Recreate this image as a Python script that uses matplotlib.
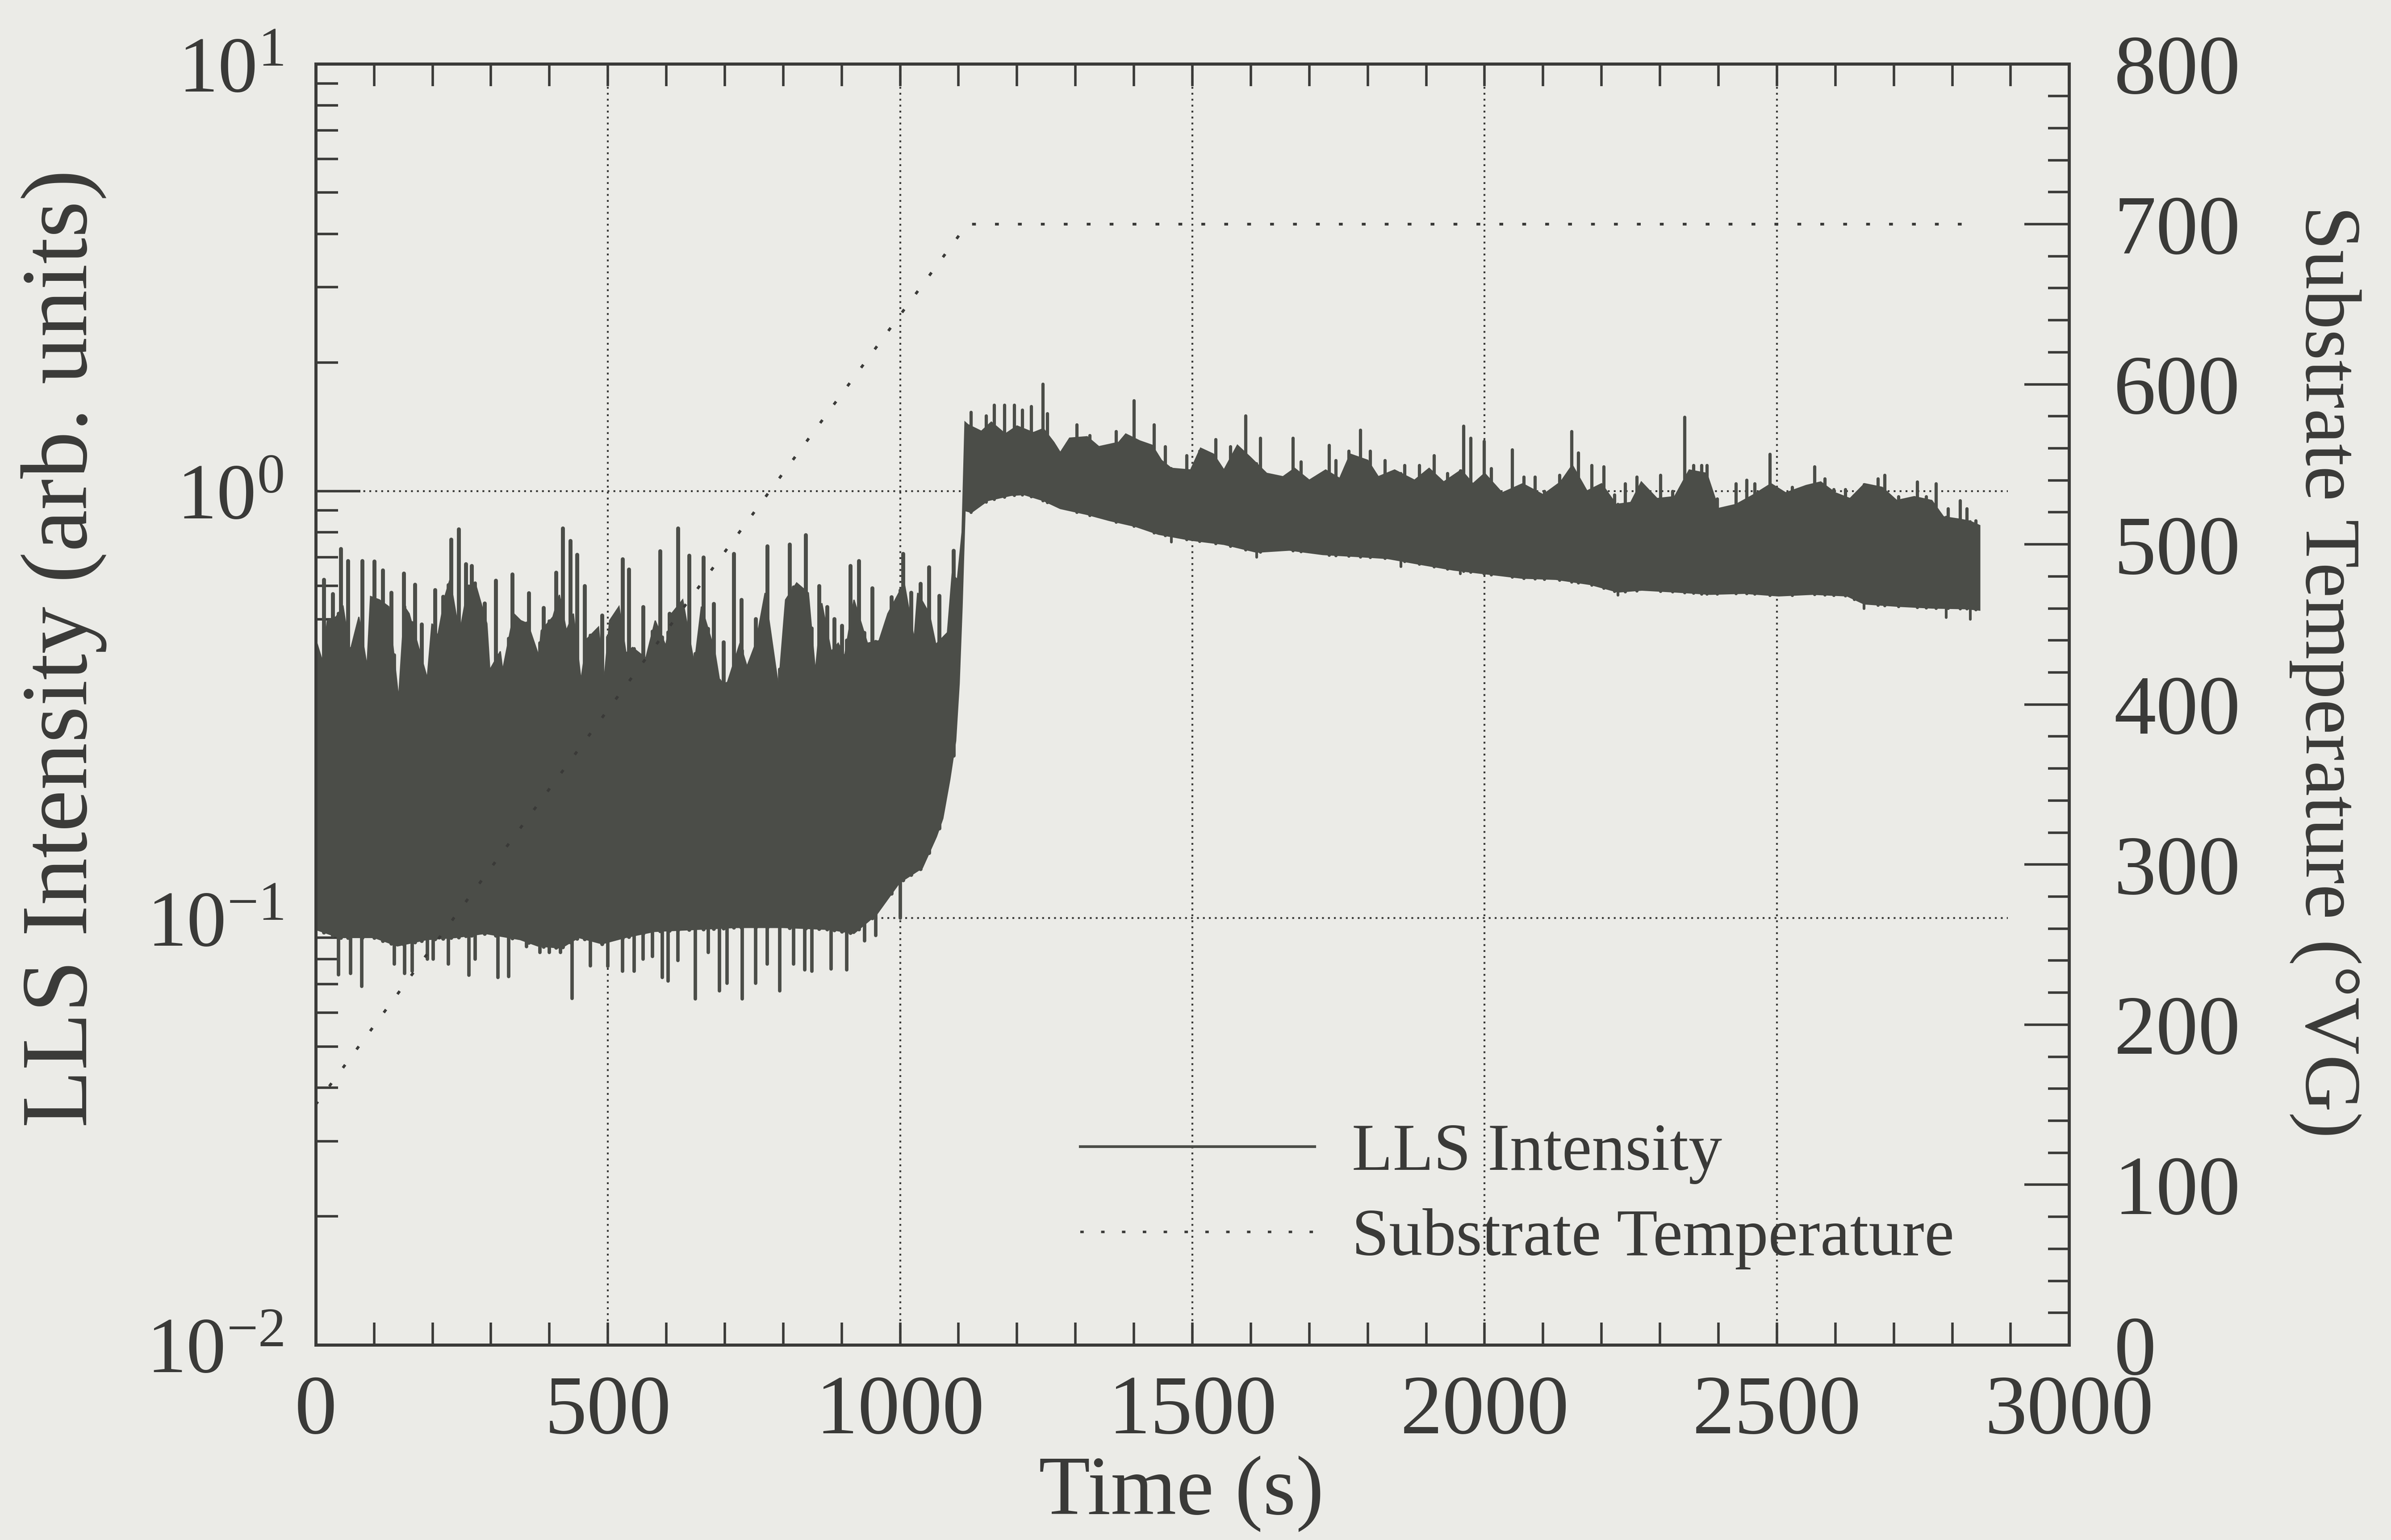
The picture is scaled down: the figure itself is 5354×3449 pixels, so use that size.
import numpy as np
import matplotlib.pyplot as plt
from matplotlib.lines import Line2D
from matplotlib.ticker import MultipleLocator, LogLocator, NullFormatter, LogFormatterMathtext

plt.rcParams['font.family'] = ['Liberation Serif', 'DejaVu Serif']
plt.rcParams['mathtext.fontset'] = 'stix'

PAPER = '#ebebe7'
INK = '#3a3a38'
TRACE = '#4b4d48'

# LLS intensity band: upper and lower edge of the dense trace
hi_t = [0, 12, 20, 35, 47, 59, 74, 88, 94, 109,
        125, 142, 152, 160, 191, 199, 209, 222, 230, 246,
        261, 273, 293, 298, 316, 320, 339, 351, 363, 382,
        386, 406, 417, 429, 441, 454, 464, 484, 493, 503,
        519, 531, 542, 565, 581, 599, 609, 628, 648, 660,
        683, 691, 704, 726, 738, 753, 769, 792, 804, 823,
        843, 855, 866, 882, 894, 905, 921, 944, 964, 979,
        1007, 1024, 1030, 1050, 1061, 1081, 1089, 1098, 1106,
        1111, 1116, 1139, 1156, 1180, 1200, 1228, 1245, 1263, 1274,
        1290, 1320, 1340, 1374, 1386, 1410, 1431, 1447, 1464, 1497,
        1514, 1536, 1554, 1577, 1599, 1627, 1655, 1675, 1700, 1728,
        1752, 1770, 1800, 1818, 1846, 1880, 1905, 1930, 1960, 1980,
        2000, 2030, 2065, 2100, 2130, 2150, 2175, 2200, 2225, 2250,
        2268, 2295, 2325, 2350, 2380, 2400, 2430, 2460, 2490, 2515,
        2550, 2575, 2600, 2625, 2650, 2680, 2705, 2735, 2765, 2785,
        2810, 2830, 2847]
hi_v = [0.45, 0.398, 0.497, 0.507, 0.536, 0.421, 0.507, 0.388, 0.566, 0.556,
        0.536, 0.326, 0.536, 0.516, 0.364, 0.489, 0.458, 0.571, 0.621, 0.462,
        0.598, 0.609, 0.489, 0.381, 0.421, 0.38, 0.516, 0.497, 0.489, 0.41,
        0.471, 0.507, 0.571, 0.471, 0.516, 0.36, 0.45, 0.48, 0.354, 0.497,
        0.536, 0.417, 0.43, 0.406, 0.497, 0.434, 0.516, 0.556, 0.392, 0.536,
        0.421, 0.36, 0.354, 0.44, 0.388, 0.44, 0.577, 0.347, 0.556, 0.609,
        0.577, 0.377, 0.546, 0.421, 0.44, 0.41, 0.556, 0.44, 0.446, 0.516,
        0.609, 0.45, 0.577, 0.516, 0.437, 0.466, 0.638, 0.62, 0.80,
        1.45, 1.43, 1.38, 1.45, 1.36, 1.42, 1.37, 1.40, 1.30, 1.23,
        1.33, 1.34, 1.27, 1.30, 1.36, 1.31, 1.28, 1.18, 1.13, 1.12,
        1.26, 1.22, 1.12, 1.28, 1.20, 1.10, 1.08, 1.13, 1.06, 1.12,
        1.07, 1.22, 1.18, 1.08, 1.12, 1.06, 1.13, 1.05, 1.12, 1.04,
        1.10, 0.99, 1.04, 0.98, 1.05, 1.15, 1.00, 1.04, 0.93, 0.94,
        1.05, 0.96, 0.97, 1.12, 1.10, 0.91, 0.93, 0.98, 1.04, 0.99,
        1.03, 1.05, 0.99, 0.96, 1.04, 1.02, 0.95, 0.97, 0.95, 0.87,
        0.86, 0.85, 0.83]

lo_t = [0, 40, 100, 140, 190, 240, 290, 350, 380, 420,
        450, 490, 530, 580, 650, 720, 800, 880, 921, 960,
        999, 1038, 1062, 1073, 1085, 1095, 1101, 1106, 1111, 1122,
        1150, 1190, 1212, 1245, 1274, 1319, 1358, 1403, 1442, 1498,
        1554, 1610, 1666, 1723, 1778, 1834, 1891, 1947, 2005, 2064,
        2122, 2181, 2228, 2269, 2327, 2386, 2444, 2503, 2561, 2620,
        2649, 2708, 2766, 2825, 2847]
lo_v = [0.094, 0.090, 0.090, 0.086, 0.089, 0.090, 0.092, 0.089, 0.086, 0.085,
        0.090, 0.087, 0.090, 0.093, 0.094, 0.095, 0.095, 0.094, 0.092, 0.102,
        0.121, 0.131, 0.155, 0.171, 0.211, 0.260, 0.354, 0.537, 0.90, 0.891,
        0.95, 0.977, 0.981, 0.95, 0.91, 0.882, 0.853, 0.826, 0.792, 0.767,
        0.750, 0.719, 0.727, 0.710, 0.703, 0.695, 0.673, 0.653, 0.639, 0.625,
        0.621, 0.604, 0.580, 0.586, 0.580, 0.573, 0.576, 0.568, 0.573, 0.568,
        0.544, 0.537, 0.532, 0.530, 0.526]

# spike tips above the band (before / after the jump) and below it
peak1_t = [14, 29, 43, 55, 80, 100, 115, 129, 151, 170,
           181, 204, 218, 232, 245, 257, 267, 289, 308, 336,
           365, 390, 411, 423, 436, 447, 460, 490, 525, 536,
           560, 589, 605, 620, 639, 663, 681, 698, 715, 728,
           753, 773, 811, 838, 861, 875, 887, 900, 915, 929,
           952, 985, 1005, 1019, 1035, 1049, 1067, 1091]
peak1_v = [0.62, 0.574, 0.733, 0.687, 0.687, 0.684, 0.653, 0.579, 0.642, 0.604,
           0.487, 0.587, 0.566, 0.771, 0.815, 0.675, 0.669, 0.546, 0.618, 0.638,
           0.577, 0.533, 0.644, 0.819, 0.764, 0.710, 0.599, 0.512, 0.693, 0.656,
           0.536, 0.723, 0.517, 0.819, 0.707, 0.700, 0.544, 0.443, 0.714, 0.556,
           0.502, 0.743, 0.751, 0.790, 0.599, 0.536, 0.502, 0.484, 0.669, 0.687,
           0.593, 0.564, 0.714, 0.579, 0.607, 0.663, 0.569, 0.726]

peak2_t = [1121, 1147, 1161, 1178, 1195, 1209, 1224, 1244, 1252, 1302,
           1324, 1369, 1400, 1434, 1453, 1490, 1512, 1540, 1565, 1591,
           1616, 1672, 1686, 1734, 1745, 1767, 1787, 1804, 1829, 1863,
           1888, 1913, 1936, 1964, 1976, 1999, 2011, 2047, 2067, 2086,
           2102, 2128, 2149, 2160, 2183, 2204, 2222, 2240, 2260, 2301,
           2321, 2342, 2357, 2371, 2380, 2398, 2430, 2448, 2462, 2488,
           2526, 2564, 2582, 2597, 2617, 2632, 2673, 2684, 2708, 2740,
           2755, 2772, 2793, 2813, 2825, 2840]
peak2_v = [1.53, 1.50, 1.59, 1.59, 1.59, 1.55, 1.58, 1.78, 1.52, 1.43,
           1.35, 1.38, 1.63, 1.43, 1.27, 1.21, 1.24, 1.32, 1.27, 1.50,
           1.33, 1.33, 1.17, 1.28, 1.18, 1.24, 1.39, 1.24, 1.18, 1.15,
           1.15, 1.21, 1.10, 1.42, 1.33, 1.31, 1.13, 1.25, 1.08, 1.08,
           1.00, 1.09, 1.38, 1.23, 1.15, 1.14, 0.98, 1.04, 1.08, 1.09,
           1.00, 1.49, 1.15, 1.15, 1.15, 0.96, 1.04, 1.06, 1.04, 1.22,
           1.02, 1.14, 1.07, 1.01, 1.01, 0.97, 1.07, 1.09, 0.97, 1.05,
           0.97, 1.04, 0.91, 0.95, 0.91, 0.853]

dip1_t = [39, 60, 79, 135, 152, 165, 191, 201, 227, 262,
          273, 312, 330, 361, 384, 400, 419, 439, 470, 500,
          525, 545, 560, 576, 593, 603, 620, 650, 672, 691,
          704, 730, 753, 773, 794, 818, 837, 849, 882, 909,
          939, 958, 1000]
dip1_v = [0.0736, 0.0741, 0.0692, 0.078, 0.0741, 0.075, 0.080, 0.080, 0.078, 0.0735,
          0.080, 0.0726, 0.073, 0.0857, 0.083, 0.083, 0.083, 0.0648, 0.0773, 0.077,
          0.075, 0.075, 0.080, 0.0813, 0.0726, 0.0711, 0.0796, 0.0647, 0.083, 0.0675,
          0.0703, 0.0647, 0.0703, 0.078, 0.0675, 0.078, 0.0756, 0.075, 0.076, 0.0756,
          0.0885, 0.091, 0.100]

dip2_t = [1464, 1610, 1857, 1958, 2228, 2649, 2790, 2831]
dip2_v = [0.76, 0.70, 0.665, 0.64, 0.57, 0.53, 0.505, 0.50]

# substrate temperature (right axis)
temp_t = [0, 1115, 2835]
temp_v = [150, 700, 700]

grid_t = [500, 1000, 1500, 2000, 2500]
grid_i = [0.1, 1.0]

fig = plt.figure(figsize=(26.77, 17.245), dpi=200, facecolor=PAPER)
ax = fig.add_axes([0.132, 0.1267, 0.7334, 0.8317])
ax.set_facecolor(PAPER)
ax.set_yscale('log')
ax.set_xlim(0, 3000)
ax.set_ylim(1e-2, 10)

for t in grid_t:
    ax.axvline(t, color=INK, lw=1.5, linestyle=(0, (1, 2.2)), zorder=1)
for v in grid_i:
    ax.axhline(v, xmax=0.965, color=INK, lw=1.5, linestyle=(0, (1, 2.2)), zorder=1)

# dense LLS trace: envelope polygon plus the spikes sticking out of it
ax.fill(np.concatenate([hi_t, lo_t[::-1]]), np.concatenate([hi_v, lo_v[::-1]]),
        color=TRACE, lw=1.0, zorder=3)
ax.vlines(peak1_t, np.interp(peak1_t, lo_t, lo_v), peak1_v, color=TRACE, lw=3.2,
          capstyle='round', zorder=3)
ax.vlines(peak2_t, np.interp(peak2_t, lo_t, lo_v), peak2_v, color=TRACE, lw=2.6,
          capstyle='round', zorder=3)
ax.vlines(dip1_t, dip1_v, np.interp(dip1_t, hi_t, hi_v), color=TRACE, lw=2.8,
          capstyle='round', zorder=3)
ax.vlines(dip2_t, dip2_v, np.interp(dip2_t, hi_t, hi_v), color=TRACE, lw=2.2,
          capstyle='round', zorder=3)

ax.xaxis.set_major_locator(MultipleLocator(500))
ax.xaxis.set_minor_locator(MultipleLocator(100))
ax.yaxis.set_major_locator(LogLocator(base=10))
ax.yaxis.set_minor_locator(LogLocator(base=10, subs=np.arange(2, 10)))
ax.yaxis.set_major_formatter(LogFormatterMathtext())
ax.yaxis.set_minor_formatter(NullFormatter())
ax.tick_params(axis='x', which='both', direction='in', top=True, bottom=True,
               length=18, width=2, color=INK, labelcolor=INK, labelsize=68, pad=24)
ax.tick_params(axis='y', which='major', direction='in', left=True, right=False,
               length=36, width=2, color=INK, labelcolor=INK, labelsize=64, pad=26)
ax.tick_params(axis='y', which='minor', direction='in', left=True, right=False,
               length=18, width=2, color=INK)
for s in ax.spines.values():
    s.set_linewidth(2.4)
    s.set_color(INK)

ax2 = ax.twinx()
ax2.set_ylim(0, 800)
ax2.plot(temp_t, temp_v, color=INK, lw=2.2, linestyle=(0, (1.4, 7)), zorder=4)
ax2.yaxis.set_major_locator(MultipleLocator(100))
ax2.yaxis.set_minor_locator(MultipleLocator(20))
ax2.tick_params(axis='y', which='major', direction='in', length=36, width=2,
                color=INK, labelcolor=INK, labelsize=68, pad=36)
ax2.tick_params(axis='y', which='minor', direction='in', length=17, width=2, color=INK)
for s in ax2.spines.values():
    s.set_linewidth(2.4)
    s.set_color(INK)

handles = [Line2D([0], [0], color=TRACE, lw=2.2),
           Line2D([0], [0], color=INK, lw=2.0, linestyle=(0, (1.4, 7)))]
ax2.legend(handles, ['LLS Intensity', 'Substrate Temperature'], loc='center left',
           bbox_to_anchor=(0.417, 0.116), frameon=False, fontsize=54, labelcolor=INK,
           handlelength=3.5, handletextpad=0.55, labelspacing=0.36, borderpad=0)

fig.text(0.0268, 0.579, 'LLS Intensity (arb. units)', rotation=90, ha='center',
         va='center', fontsize=76, color=INK)
fig.text(0.9726, 0.564, 'Substrate Temperature (°VG)', rotation=-90, ha='center',
         va='center', fontsize=64, color=INK)
fig.text(0.494, 0.030, 'Time (s)', ha='center', va='center', fontsize=68, color=INK)

fig.savefig('out.png', dpi=200, facecolor=PAPER)
